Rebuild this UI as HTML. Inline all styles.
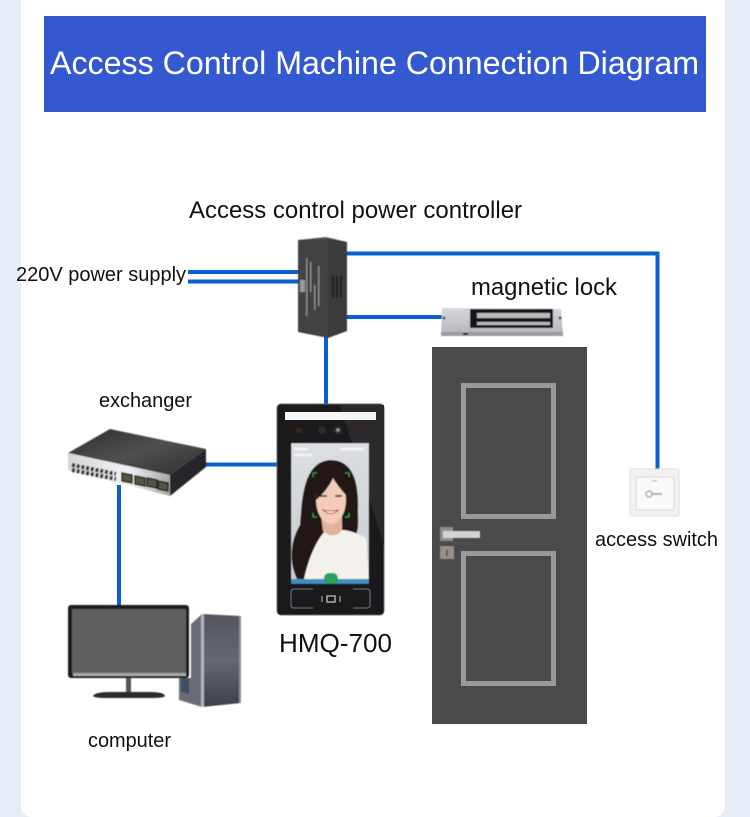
<!DOCTYPE html>
<html><head><meta charset="utf-8"><style>
html,body{margin:0;padding:0;background:#e6edf7}
svg{display:block}
text{font-family:"Liberation Sans",sans-serif;fill:#111}
</style></head><body>
<svg width="750" height="817" viewBox="0 0 750 817" xmlns="http://www.w3.org/2000/svg">
<defs>
<filter id="b" x="-5%" y="-5%" width="110%" height="110%"><feGaussianBlur stdDeviation="0.5"/></filter>
<filter id="b2" x="-10%" y="-10%" width="120%" height="120%"><feGaussianBlur stdDeviation="1"/></filter>
<linearGradient id="sw" x1="0" x2="1" y1="0" y2="1"><stop offset="0" stop-color="#2e2e2e"/><stop offset=".5" stop-color="#4f4f4f"/><stop offset="1" stop-color="#2f2f2f"/></linearGradient>
<linearGradient id="fr" x1="0" x2="1" y1="0" y2="0"><stop offset="0" stop-color="#d5d6d8"/><stop offset=".6" stop-color="#f0f1f3"/><stop offset="1" stop-color="#a5a6a9"/></linearGradient>
<linearGradient id="tw" x1="0" x2="0" y1="0" y2="1"><stop offset="0" stop-color="#55565e"/><stop offset=".5" stop-color="#666770"/><stop offset="1" stop-color="#3f4047"/></linearGradient>
<linearGradient id="ml" x1="0" x2="0" y1="0" y2="1"><stop offset="0" stop-color="#d4d5da"/><stop offset="1" stop-color="#b4b5bb"/></linearGradient>
<linearGradient id="ph" x1="0" x2="0" y1="0" y2="1"><stop offset="0" stop-color="#dcdfe2"/><stop offset="1" stop-color="#c9ccce"/></linearGradient>
</defs>
<rect width="750" height="817" fill="#e6edf7"/>
<path d="M21 0H725V805Q725 817 713 817H33Q21 817 21 805Z" fill="#fff"/>
<rect x="44" y="16" width="662" height="96" fill="#3358cf"/>
<text x="50" y="74" font-size="32" textLength="649" lengthAdjust="spacingAndGlyphs" style="fill:#fff">Access Control Machine Connection Diagram</text>

<!-- connectors -->
<g fill="none" stroke="#0a5fd2" stroke-width="4">
<path d="M188 272H300M188 281.500H300" />
<path d="M344 253.500H657.500V470"/>
<path d="M344 317H442"/>
<path d="M326 336V405"/>
<path d="M203 464.500H278"/>
<path d="M119 485V606"/>
</g>

<!-- power controller -->
<g filter="url(#b)">
<polygon points="298,240 328,238 328,338 298,332" fill="#424244"/>
<polygon points="328,238 347,242 347,331 328,338" fill="#3a3a3c"/>
<polygon points="298,240 326,237 347,242 328,239" fill="#555"/>
<g fill="#88888b">
<rect x="306" y="258" width="1.500" height="58"/><rect x="300" y="280" width="5" height="12" fill="#9a9a9c"/>
<rect x="310" y="262" width="1.500" height="30"/><rect x="314" y="285" width="1.500" height="25"/><rect x="318" y="266" width="1.500" height="40"/>
</g>
<g fill="#1c1c1e"><rect x="332" y="276" width="2" height="22"/><rect x="336" y="276" width="2" height="22"/><rect x="340" y="276" width="2" height="22"/></g>
</g>

<!-- magnetic lock -->
<g filter="url(#b)">
<polygon points="442,308 561,309 563,334 441,336" fill="url(#ml)"/>
<rect x="441" y="332" width="122" height="4" fill="#9a9ba0"/>
<rect x="470" y="309" width="83" height="19" fill="#181818"/>
<rect x="477" y="313" width="73" height="5" fill="#b9babd"/>
<rect x="477" y="322" width="73" height="3" fill="#b9babd"/>
<circle cx="444" cy="318" r="1.500" fill="#555"/><circle cx="560" cy="318" r="1.500" fill="#555"/>
<rect x="463" y="333" width="5" height="2" fill="#222"/>
</g>

<!-- door -->
<rect x="432" y="347" width="155" height="377" fill="#4a4a4c"/>
<g fill="none" stroke="#99999b" stroke-width="5">
<rect x="463.500" y="385.500" width="90" height="131"/>
<rect x="463.500" y="553.500" width="90" height="130"/>
</g>
<g filter="url(#b)">
<rect x="440" y="527" width="13" height="14" fill="#8f8f91"/>
<rect x="443" y="531" width="37" height="7" fill="#d4d4d4"/>
<rect x="440" y="546" width="14" height="13" fill="#99908a"/>
<rect x="446" y="550" width="2" height="6" fill="#5c5855"/>
</g>

<!-- exchange switch -->
<g filter="url(#b)">
<polygon points="110,429 206,449 170,475 68,453" fill="url(#sw)"/>
<polygon points="68,453 170,475 170,496 68,470" fill="url(#fr)"/>
<polygon points="170,475 206,449 206,467 170,496" fill="#25252a"/>
<g stroke="#333" stroke-width="4" stroke-dasharray="3 1.800" fill="none">
<path d="M72 465L116 474"/><path d="M72 470L116 479"/>
</g>
<g fill="#5a5540" stroke="#222" stroke-width="1.500">
<polygon points="122,473 132,475 132,483 122,481"/>
<polygon points="135,476 145,478 145,486 135,484"/>
<polygon points="147,478 157,480 157,488 147,486"/>
<polygon points="158,481 168,483 168,491 158,489"/>
</g>
</g>

<!-- device -->
<rect x="277" y="404" width="107" height="211" rx="4" fill="#1a1a1c" stroke="#6a6b70" stroke-width="1"/>
<polygon points="340,405 384,405 384,545" fill="#2a2a2d"/>
<rect x="285" y="412" width="91" height="8" fill="#f5f5f5"/>
<g filter="url(#b)">
<circle cx="322" cy="430" r="4" fill="#20322f"/>
<circle cx="338" cy="430" r="4" fill="#333"/><circle cx="338" cy="430" r="1.500" fill="#aaa"/>
<rect x="296" y="428" width="6" height="5" fill="#3f2218"/><rect x="359" y="428" width="6" height="5" fill="#3f2218"/>
<rect x="291" y="443" width="78" height="141" fill="url(#ph)"/>
<path d="M297 579C288 560 291 540 300 525C302 500 303 462 330 460C352 460 359 480 358 510C358 520 359 528 356 535L320 579Z" fill="#231815"/>
<path d="M304 579C308 560 316 540 326 530H342C350 530 361 535 366 538L369 579Z" fill="#f4f1ec"/>
<path d="M321 516L323 531C329 537 337 537 342 530L342 516Z" fill="#e3b29c"/>
<ellipse cx="331" cy="500" rx="15" ry="24" fill="#f2ccb9"/>
<path d="M316 500C317 482 322 474 331 473C341 473 346 482 347 496C341 490 336 483 333 478C329 487 323 494 316 500Z" fill="#231815"/>
<path d="M323 510Q330 517 339 510Q331 512 323 510Z" fill="#fff" stroke="#b9504f" stroke-width="1"/>
<path d="M320 496h7M335 496h7" stroke="#2a1c18" stroke-width="1.500"/>
<g fill="none" stroke="#23a043" stroke-width="1.300">
<path d="M313 477v-4h4"/><path d="M345 473h4v4"/><path d="M313 513v4h4"/><path d="M349 513v4h-4"/>
</g>
<path d="M294 449h14M294 455h18M340 449h24" stroke="#f5f5f5" stroke-width="2.500"/>
<rect x="291" y="579" width="78" height="5" fill="#3d8fc0"/>
<rect x="324" y="573" width="14" height="11" rx="5" fill="#27a25a"/>
</g>
<g fill="none" stroke="#77787c" stroke-width="1">
<path d="M313 589H294Q291 589 291 592V605Q291 608 294 608H313"/><path d="M353 589H367Q370 589 370 592V605Q370 608 367 608H353"/>
</g>
<rect x="327" y="596" width="8" height="6" fill="none" stroke="#aaa" stroke-width="1.500"/>
<path d="M322 596v6M340 596v6" stroke="#888" stroke-width="1.500"/>

<!-- computer -->
<g filter="url(#b)">
<rect x="68" y="605" width="121" height="73" rx="3" fill="#1f1f22"/>
<rect x="72" y="609" width="114" height="64" fill="#5e5e5e"/>
<rect x="73" y="673" width="113" height="3" fill="#a9a9a9"/>
<rect x="126" y="678" width="5" height="14" fill="#55565a"/>
<path d="M93 696Q95 692 110 692H150Q164 692 165 696Q164 698 150 698H108Q94 698 93 696Z" fill="#2a2a2c"/>
<polygon points="191,624 202,614 202,707 179,700 179,678 191,678" fill="#6a6c75"/>
<polygon points="181,678 189,678 189,694 181,692" fill="#3e4f63"/>
<polygon points="202,614 241,616 241,703 202,707" fill="url(#tw)"/>
<rect x="201" y="614" width="3" height="93" fill="#b3b4b8"/>
<rect x="239" y="616" width="2" height="87" fill="#8f9096"/>
</g>

<!-- access switch plate -->
<g filter="url(#b)">
<rect x="630" y="469" width="49" height="47" rx="2" fill="#f2f2f2" stroke="#dcdcdc"/>
<rect x="636" y="477" width="38" height="33" rx="1" fill="#fafafa" stroke="#d6d6d6"/>
<circle cx="649" cy="494" r="3" fill="none" stroke="#a5adb0" stroke-width="1.500"/>
<path d="M652 494H662" stroke="#a5adb0" stroke-width="2"/>
<rect x="652" y="480" width="5" height="1.500" fill="#c5c5b5"/>
</g>

<!-- labels -->
<text x="189" y="218" font-size="24" textLength="333" lengthAdjust="spacingAndGlyphs">Access control power controller</text>
<text x="16" y="281" font-size="20" textLength="170" lengthAdjust="spacingAndGlyphs">220V power supply</text>
<text x="471" y="295" font-size="24" textLength="146" lengthAdjust="spacingAndGlyphs">magnetic lock</text>
<text x="99" y="407" font-size="20" textLength="93" lengthAdjust="spacingAndGlyphs">exchanger</text>
<text x="279" y="652" font-size="26" textLength="113" lengthAdjust="spacingAndGlyphs">HMQ-700</text>
<text x="595" y="546" font-size="20" textLength="123" lengthAdjust="spacingAndGlyphs">access switch</text>
<text x="88" y="747" font-size="20" textLength="83" lengthAdjust="spacingAndGlyphs">computer</text>
</svg>
</body></html>
